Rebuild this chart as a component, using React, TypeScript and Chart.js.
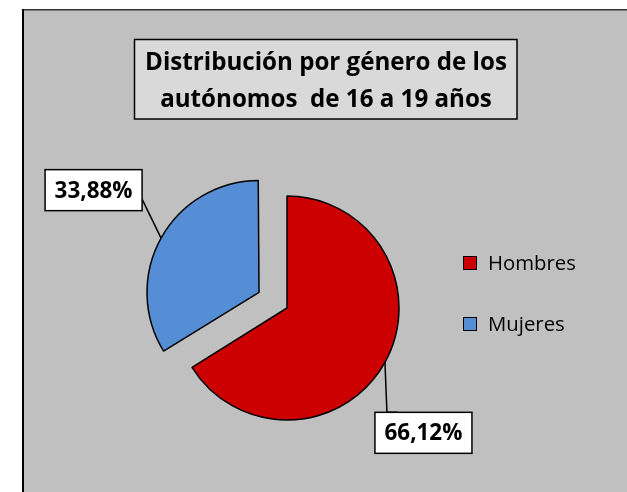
import React, { useEffect, useRef } from "react";
import { Chart, registerables } from "chart.js";

Chart.register(...registerables);

const categories = ["Hombres", "Mujeres"];
const values = [66.12, 33.88];
const valueLabels = ["66,12%", "33,88%"];
const sliceColors = ["#cc0000", "#558ed5"];
const explodePx = [0, 32];
const titleLines = ["Distribución por género de los", "autónomos  de 16 a 19 años"];

const W = 627;
const H = 492;
const R = 112;
const FONT = "'Open Sans', Lato, 'DejaVu Sans', sans-serif";

// label box placement relative to anchor on arc (style config)
const labelPlacement = [
  { dx: 38.5, dy: 70.5, lead: [[-36.5, -20.5], [-25.5, -20.5]] },
  { dx: -67.5, dy: -48, lead: [[48.5, 9]] },
];

function fitSize(ctx: CanvasRenderingContext2D, text: string, target: number, weight: string, maxSize: number) {
  ctx.font = `${weight} 100px ${FONT}`;
  const w = ctx.measureText(text).width;
  return Math.min(maxSize, (100 * target) / w);
}

const framePlugin = {
  id: "frame",
  beforeDraw(chart: any) {
    const ctx = chart.ctx;
    ctx.save();
    ctx.fillStyle = "#ffffff";
    ctx.fillRect(0, 0, W, H);
    ctx.fillStyle = "#c0c0c0";
    ctx.fillRect(22, 9, W - 22, H - 9);
    ctx.fillStyle = "#333333";
    ctx.fillRect(22, 9, W - 22, 1.5);
    ctx.fillStyle = "#000000";
    ctx.fillRect(22, 9, 2, H - 9);

    // title box
    ctx.fillStyle = "#d9d9d9";
    ctx.fillRect(134, 39, 383, 80);
    ctx.strokeStyle = "#000";
    ctx.lineWidth = 1.5;
    ctx.strokeRect(134.5, 39.5, 382.5, 79.5);
    ctx.fillStyle = "#000";
    const ts = fitSize(ctx, titleLines[0], 362, "bold", 26);
    ctx.font = `bold ${ts}px ${FONT}`;
    ctx.textAlign = "center";
    ctx.textBaseline = "alphabetic";
    ctx.fillText(titleLines[0], 326, 70);
    ctx.fillText(titleLines[1], 326, 107);

    // legend
    const labels = chart.data.labels;
    const bg = chart.data.datasets[0].backgroundColor;
    const ls = fitSize(ctx, labels[0], 88, "normal", 22);
    ctx.font = `${ls}px ${FONT}`;
    ctx.textAlign = "left";
    ctx.textBaseline = "middle";
    labels.forEach((lab: string, i: number) => {
      const cy = 263 + i * 61;
      ctx.fillStyle = bg[i];
      ctx.fillRect(463.5, cy - 6.5, 13, 13);
      ctx.strokeStyle = "#000";
      ctx.lineWidth = 1;
      ctx.strokeRect(463.5, cy - 6.5, 13, 13);
      ctx.fillStyle = "#000";
      ctx.fillText(lab, 488, cy + 1);
    });
    ctx.restore();
  },
};

const fixOffsetPlugin = {
  id: "fixOffset",
  afterDatasetsUpdate(chart: any) {
    const meta = chart.getDatasetMeta(0);
    meta.data.forEach((arc: any, i: number) => {
      const o = explodePx[i];
      const circ = arc.endAngle - arc.startAngle;
      const fix = 1 - Math.sin(Math.min(Math.PI, circ));
      arc.outerRadius = R - o * fix;
    });
  },
};

const labelPlugin = {
  id: "valueLabels",
  afterDatasetsDraw(chart: any) {
    const ctx = chart.ctx;
    const meta = chart.getDatasetMeta(0);
    ctx.save();
    const vs = fitSize(ctx, valueLabels[1], 78, "bold", 24);
    meta.data.forEach((arc: any, i: number) => {
      const mid = (arc.startAngle + arc.endAngle) / 2;
      const o = explodePx[i];
      const ax = arc.x + Math.cos(mid) * (o + R);
      const ay = arc.y + Math.sin(mid) * (o + R);
      const p = labelPlacement[i];
      const bx = ax + p.dx;
      const by = ay + p.dy;
      ctx.strokeStyle = "#000";
      ctx.lineWidth = 1.5;
      ctx.beginPath();
      ctx.moveTo(ax, ay);
      p.lead.forEach((pt) => ctx.lineTo(bx + pt[0], by + pt[1]));
      ctx.stroke();
      const bw = 97;
      const bh = 41;
      ctx.fillStyle = "#ffffff";
      ctx.fillRect(bx - bw / 2, by - bh / 2, bw, bh);
      ctx.strokeRect(bx - bw / 2, by - bh / 2, bw, bh);
      ctx.fillStyle = "#000";
      ctx.font = `bold ${vs}px ${FONT}`;
      ctx.textAlign = "center";
      ctx.textBaseline = "middle";
      ctx.fillText(valueLabels[i], bx, by + 1);
    });
    ctx.restore();
  },
};

export default function App() {
  const ref = useRef<HTMLCanvasElement>(null);
  useEffect(() => {
    if (!ref.current) return;
    const chart = new Chart(ref.current, {
      type: "pie",
      data: {
        labels: categories,
        datasets: [
          {
            data: values,
            backgroundColor: sliceColors,
            borderColor: "#000000",
            borderWidth: 1.5,
            offset: explodePx.map((v) => v * 4),
            radius: R,
          } as any,
        ],
      },
      options: {
        responsive: false,
        animation: false,
        events: [],
        layout: { padding: { left: 100, right: 153, top: 180, bottom: 56 } },
        plugins: {
          legend: { display: false },
          title: { display: false },
          tooltip: { enabled: false },
        },
      } as any,
      plugins: [framePlugin, fixOffsetPlugin, labelPlugin],
    });
    return () => chart.destroy();
  }, []);
  return (
    <div style={{ position: "absolute", left: 0, top: 0, width: W, height: H }}>
      <canvas ref={ref} width={W} height={H} style={{ width: W, height: H, display: "block" }} />
    </div>
  );
}
